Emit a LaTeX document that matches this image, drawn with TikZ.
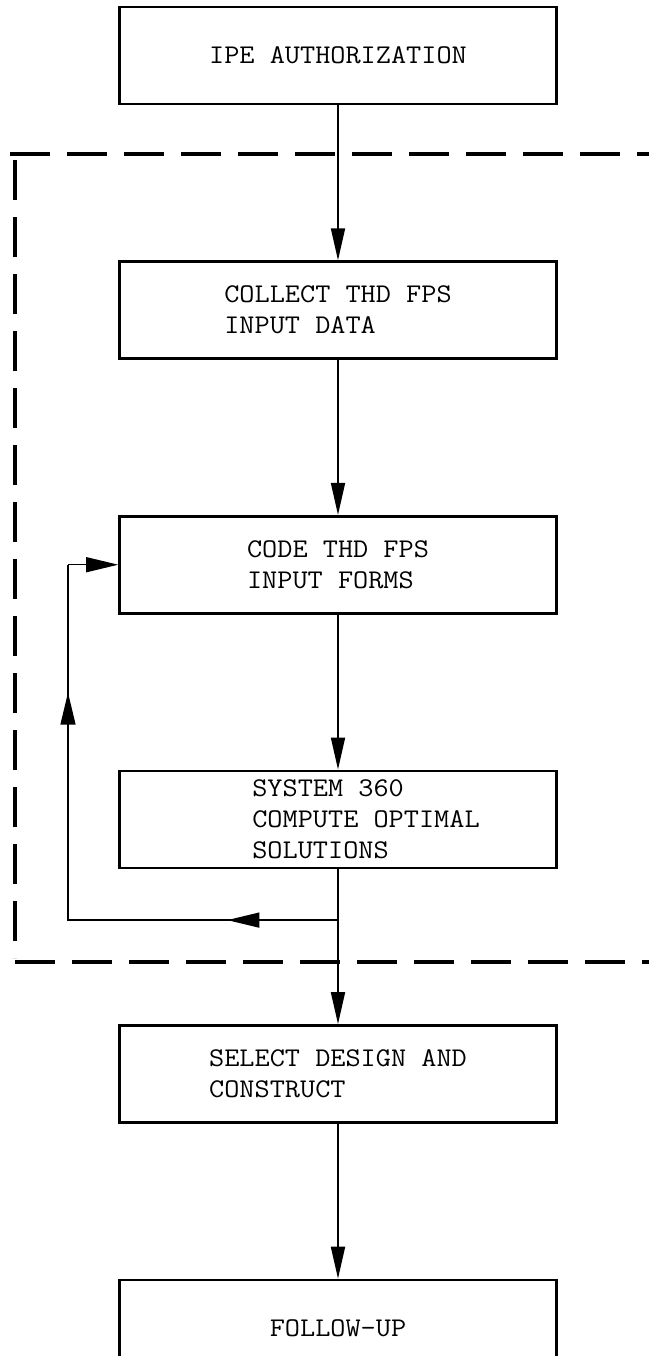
\documentclass[tikz,border=0pt]{standalone}
\usepackage{fontspec}
\setmonofont[FakeStretch=1.09]{Latin Modern Mono}
\usetikzlibrary{positioning, arrows.meta, calc}

\begin{document}
\begin{tikzpicture}[
    x=0.5pt, y=-0.5pt,
    node distance=77.5pt,
    box/.style={draw, line width=1.3pt, minimum width=218.5pt, minimum height=48.5pt, font=\ttfamily\fontsize{13.5}{15.5}\selectfont, align=left, inner sep=0pt},
    arr/.style={-{Triangle[length=16pt, width=7pt]}, line width=0.9pt},
    fbline/.style={line width=0.7pt},
    fbarr/.style={fbline, -{Triangle[length=16pt, width=7.5pt]}},
    dashframe/.style={line width=1.6pt, dash pattern=on 20pt off 8.5pt},
]
\clip (0,0) rectangle (649,1356);

% Flow boxes
\node[box] (auth) at (338,55.5) {IPE AUTHORIZATION};
\node[box, below=of auth] (collect) {COLLECT THD FPS\\INPUT DATA};
\node[box, below=of collect] (code) {CODE THD FPS\\INPUT FORMS};
\node[box, below=of code] (compute) {\hspace*{28pt}SYSTEM 360\\\hspace*{28pt}COMPUTE OPTIMAL\\\hspace*{28pt}SOLUTIONS};
\node[box, below=of compute] (select) {SELECT DESIGN AND\\CONSTRUCT};
\node[box, below=of select] (follow) {FOLLOW-UP};

% Dashed boundary
\draw[dashframe] (10,154) -- (649,154);
\draw[dashframe] (15,160) -- (15,958);
\draw[dashframe] (15,962) -- (649,962);

% Main arrows
\draw[arr] (auth) -- (collect);
\draw[arr] (collect) -- (code);
\draw[arr] (code) -- (compute);
\draw[arr] (compute) -- (select);
\draw[arr] (select) -- (follow);

% Feedback loop
\coordinate[below=25.5pt of compute.south] (fork);
\coordinate[left=135pt of fork] (turn);
\coordinate (rise) at (turn |- code.west);
\draw[fbline] (fork) -- (turn) -- (rise);
\draw[fbarr] (fork) -- ($(fork)!0.41!(turn)$);
\draw[fbarr] (turn) -- ($(turn)!0.64!(rise)$);
\draw[fbarr] (rise) -- (code.west);
\end{tikzpicture}
\end{document}
